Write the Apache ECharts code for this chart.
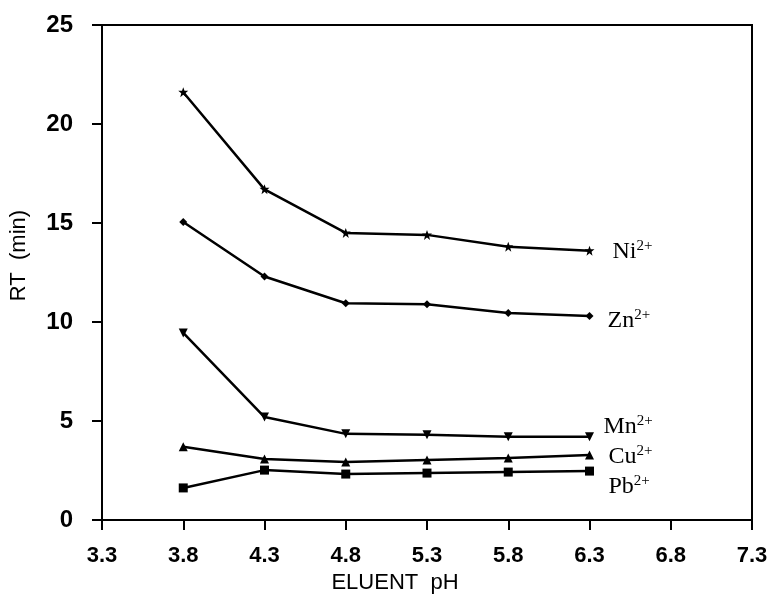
<!DOCTYPE html>
<html><head><meta charset="utf-8">
<script src="https://cdn.jsdelivr.net/npm/echarts@6/dist/echarts.min.js"></script>
<style>html,body{margin:0;padding:0;background:#fff}#c{width:773px;height:601px}</style>
</head><body><div id="c"></div>
<script>
const ph = [3.8, 4.3, 4.8, 5.3, 5.8, 6.3];
const ni = [21.6, 16.7, 14.5, 14.4, 13.8, 13.6];
const zn = [15.05, 12.3, 10.95, 10.9, 10.45, 10.3];
const mn = [9.45, 5.2, 4.35, 4.3, 4.2, 4.2];
const cu = [3.7, 3.08, 2.93, 3.03, 3.13, 3.28];
const pb = [1.62, 2.52, 2.32, 2.37, 2.42, 2.47];
const names = ['Ni', 'Zn', 'Mn', 'Cu', 'Pb'];

const symbols = ['path://M0,-10 L2.5,-3 L10,-3 L4,2 L6,10 L0,5 L-6,10 L-4,2 L-10,-3 L-2.5,-3 Z', 'diamond', 'path://M-10,-8 L10,-8 L0,10 Z', 'triangle', 'rect'];
const sizes = [10, 8, 9, 9, 9];
const offsets = [[15, 1], [10, 5], [6, -10], [11, 2], [11, 16]];
const all = [ni, zn, mn, cu, pb];

const chart = echarts.init(document.getElementById('c'), null, {renderer: 'canvas'});
chart.setOption({
  backgroundColor: '#fff',
  animation: false,
  grid: {left: 100, right: 21, top: 25, bottom: 81, show: true, borderColor: '#000', borderWidth: 2, backgroundColor: 'transparent'},
  xAxis: {
    type: 'value', min: 3.3, max: 7.3, interval: 0.5,
    name: 'ELUENT  pH', nameLocation: 'middle', nameGap: 52,
    nameTextStyle: {fontFamily: 'Liberation Sans', fontSize: 22, color: '#000', padding: [0, 64, 0, 0]},
    axisLine: {onZero: false, lineStyle: {color: '#000', width: 2}},
    axisTick: {show: true, length: 10, lineStyle: {color: '#000', width: 2}},
    axisLabel: {fontFamily: 'Liberation Sans', fontWeight: 'bold', fontSize: 22, color: '#000', margin: 25, formatter: v => v.toFixed(1)},
    splitLine: {show: false}
  },
  yAxis: {
    type: 'value', min: 0, max: 25, interval: 5,
    name: 'RT  (min)', nameLocation: 'middle', nameGap: 72, nameRotate: 90,
    nameTextStyle: {fontFamily: 'Liberation Sans', fontSize: 22, color: '#000', padding: [0, 0, 0, 34]},
    axisLine: {lineStyle: {color: '#000', width: 2}},
    axisTick: {show: true, length: 10, lineStyle: {color: '#000', width: 2}},
    axisLabel: {fontFamily: 'Liberation Sans', fontWeight: 'bold', fontSize: 24, color: '#000', margin: 29},
    splitLine: {show: false}
  },
  series: all.map((arr, i) => ({
    type: 'line', name: names[i],
    data: ph.map((x, j) => [x, arr[j]]),
    symbol: symbols[i], symbolSize: sizes[i],
    lineStyle: {color: '#000', width: 2.5},
    itemStyle: {color: '#000'},
    endLabel: {
      show: true, offset: offsets[i],
      formatter: () => '{b|' + names[i] + '}{s|2+}',
      rich: {
        b: {fontFamily: 'Liberation Serif', fontSize: 24, color: '#000'},
        s: {fontFamily: 'Liberation Serif', fontSize: 15, color: '#000', verticalAlign: 'top', padding: [0, 0, 12, 0]}
      }
    }
  }))
});
</script></body></html>
